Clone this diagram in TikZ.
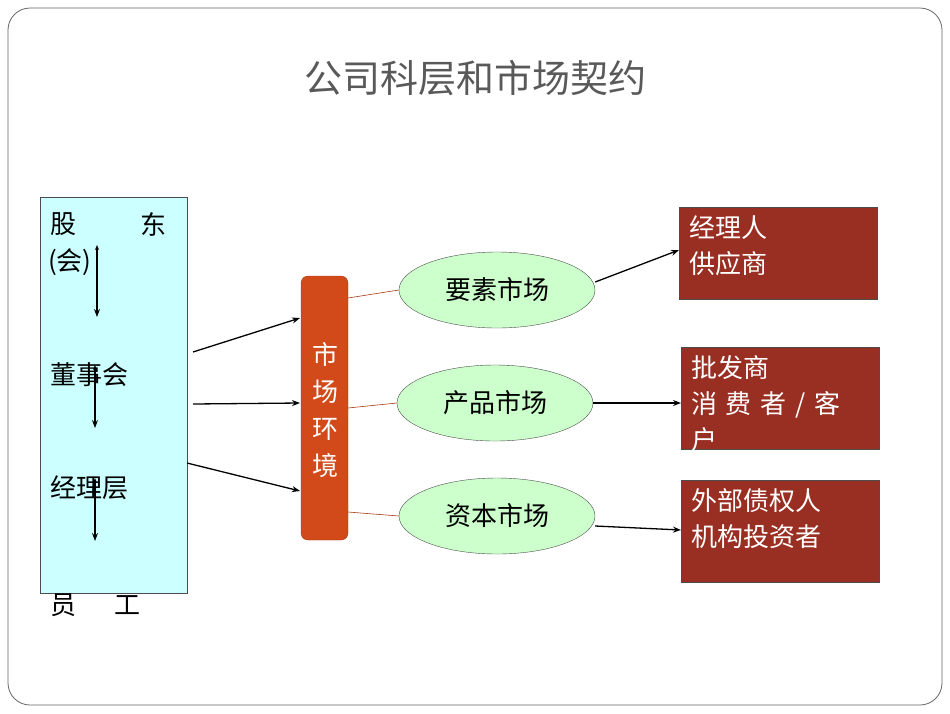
\documentclass[tikz,border=0pt]{standalone}
\usepackage{fontspec}
\setmainfont{Noto Sans CJK SC}
\usetikzlibrary{shapes.geometric,arrows.meta}
\definecolor{envc}{HTML}{D2491A}
\definecolor{boxc}{HTML}{992E22}
\definecolor{cyanc}{HTML}{CCFFFF}
\definecolor{ellc}{HTML}{CCFFCC}
\tikzset{
  lbl/.style={font=\fontsize{26}{30}\selectfont, inner sep=0pt},
  rbox/.style={draw=black!70, fill=boxc},
  rtxt/.style={font=\fontsize{26}{36}\selectfont, text=white, align=left, anchor=north west, inner sep=0pt},
  mk/.style={ellipse, draw=black!70, fill=ellc, minimum width=196pt, minimum height=76pt, font=\fontsize{26}{30}\selectfont, inner sep=0pt},
  arr/.style={-{Stealth[length=8pt,width=6pt]}, line width=1.3pt},
  thin/.style={draw=envc!80!black, line width=0.6pt}
}
\begin{document}
\begin{tikzpicture}[x=1pt,y=1pt]
\useasboundingbox (0,0) rectangle (950,-713);
\draw[black!60, line width=0.8pt, rounded corners=22pt] (8,-8) rectangle (942,-705);
\node[font=\fontsize{38}{44}\selectfont, text=black!65] (title) at (475,-78) {公司科层和市场契约};
% left box
\draw[black!70, fill=cyanc] (40,-197) rectangle (187,-593);
\node[lbl, anchor=west] (g1) at (50,-224) {股};
\node[lbl, anchor=west] (g2) at (140,-224) {东};
\node[lbl, anchor=west] (g3) at (48,-262) {(会)};
\node[lbl, anchor=west] (dsh) at (50,-375) {董事会};
\node[lbl, anchor=west] (jlc) at (50,-488) {经理层};
\node[lbl, anchor=west] (y1) at (50,-605) {员};
\node[lbl, anchor=west] (y2) at (114,-605) {工};
\coordinate (a1s) at (97,-245); \coordinate (a1e) at (97,-317);
\coordinate (a2s) at (95,-365); \coordinate (a2e) at (95,-428);
\coordinate (a3s) at (95,-478); \coordinate (a3e) at (95,-541);
\foreach \s/\e in {a1s/a1e,a2s/a2e,a3s/a3e}
  \draw[{Stealth[length=5pt,width=4pt]}-{Stealth[length=8pt,width=6pt]}, line width=1.2pt] (\s) -- (\e);
% env box
\node[draw=envc!80!black, fill=envc, rounded corners=7pt, minimum width=47pt, minimum height=264pt, inner sep=0pt] (env) at (324.5,-408) {};
\node[font=\fontsize{26}{37}\selectfont, text=white, align=center] (envt) at (325,-410) {市\\场\\环\\境};
\coordinate (s1) at (193,-352); \coordinate (e1) at (300,-318);
\coordinate (s2) at (193,-404); \coordinate (e2) at (300,-403);
\coordinate (s3) at (187,-463); \coordinate (e3) at (300,-491);
\draw[arr] (s1) -- (e1);
\draw[arr] (s2) -- (e2);
\draw[arr] (s3) -- (e3);
% ellipses
\node[mk] (m1) at (497,-290) {要素市场};
\node[mk] (m2) at (495,-403) {产品市场};
\node[mk] (m3) at (497,-516) {资本市场};
\draw[thin] (348,-298) -- (m1.west);
\draw[thin] (348,-408) -- (m2.west);
\draw[thin] (348,-512) -- (m3.west);
% right boxes
\node[rbox, minimum width=198pt, minimum height=92pt, anchor=north west, inner sep=0pt] (r1) at (679,-207) {};
\node[rbox, minimum width=198pt, minimum height=102pt, anchor=north west, inner sep=0pt] (r2) at (681,-347) {};
\node[rbox, minimum width=198pt, minimum height=102pt, anchor=north west, inner sep=0pt] (r3) at (681,-480) {};
\node[rtxt] (t1) at (689,-215) {经理人\\供应商};
\begin{scope}
\clip (681,-347) rectangle (879,-449);
\node[rtxt] (t2) at (691,-355) {批发商\\消\,\,费\,\,者\,\,/\,\,客\\户};
\end{scope}
\node[rtxt] (t3) at (691,-488) {外部债权人\\机构投资者};
\draw[arr] (m1.east) ++(0,8) -- (r1.west |- 0,-250);
\draw[arr] (m2.east) -- (r2.west |- m2.east);
\draw[arr] (m3.east) ++(0,-10) -- (r3.west |- 0,-530);
\end{tikzpicture}
\end{document}
